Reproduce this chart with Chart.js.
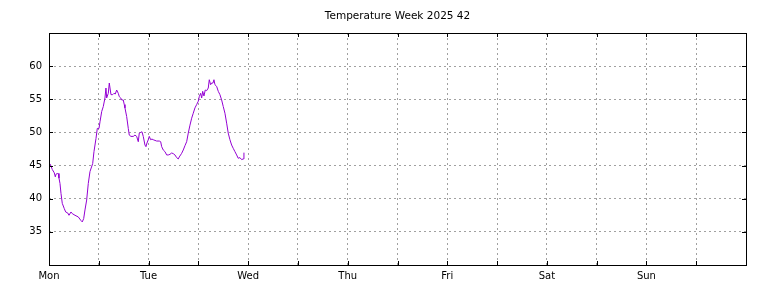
<!DOCTYPE html>
<html>
<head>
<meta charset="utf-8">
<script src="https://cdn.jsdelivr.net/npm/chart.js@4"></script>
<style>
html,body{margin:0;padding:0;background:#fff;}
#wrap{width:768px;height:288px;}
</style>
</head>
<body>
<div id="wrap"><canvas id="c" width="768" height="288"></canvas></div>
<script>
// ---- data ----
const title = "Temperature Week 2025 42";
const dayLabels = ["Mon", "Tue", "Wed", "Thu", "Fri", "Sat", "Sun"];
// hours since Monday 00:00
const hours = [0,0.31,0.8,1.28,1.52,1.69,2.0,2.24,2.41,2.65,2.89,3.2,3.69,4.02,4.51,4.82,5.3,5.61,6.27,7.06,7.71,8.02,8.36,8.67,9.08,9.47,9.88,10.53,10.84,11.33,11.64,12.05,12.29,12.7,13.08,13.49,13.73,13.9,14.29,14.53,14.94,15.35,15.66,15.98,16.31,16.7,16.94,17.28,17.52,17.9,18.14,18.31,18.72,19.11,19.35,19.76,20.31,20.72,21.13,21.52,21.76,22.1,22.41,22.72,23.13,23.37,23.61,23.93,24.17,24.51,24.82,25.13,25.95,26.58,26.92,27.16,27.54,27.95,28.36,28.75,29.16,29.57,29.95,30.36,30.77,31.16,31.4,31.98,32.36,32.77,33.18,33.57,33.98,34.39,34.77,35.18,35.59,35.98,36.22,36.55,36.8,37.04,37.35,37.66,38.0,38.39,38.63,38.96,39.2,39.52,39.76,40.0,40.41,40.8,41.2,41.61,42.0,42.41,42.82,43.2,43.61,44.02,44.41,44.82,45.23,45.61,46.02,46.43,46.82,46.99];
const temps = [45.3,45.2,44.4,43.9,43.3,43.7,43.8,43.8,43.1,42.3,40.8,39.3,38.5,38.0,37.85,37.5,38.0,37.75,37.5,37.25,36.7,36.5,37.0,38.3,39.8,42.3,44.1,45.3,47.1,49.1,50.6,50.6,51.6,53.15,53.9,55.2,56.7,55.2,55.9,57.45,55.7,55.7,55.9,55.8,56.4,55.9,55.4,55.2,54.9,54.9,54.2,53.7,52.4,50.6,49.6,49.4,49.4,49.6,49.4,48.6,49.9,50.0,50.1,49.4,48.1,47.85,48.4,48.9,49.4,48.9,49.0,48.9,48.7,48.7,48.6,47.85,47.35,47.1,46.6,46.6,46.7,46.9,46.8,46.6,46.2,46.0,46.3,46.85,47.35,48.0,48.6,49.9,51.1,52.15,52.9,53.7,54.2,54.7,55.4,55.9,55.2,56.2,55.5,56.4,56.3,56.7,57.95,57.2,57.45,57.45,57.95,57.2,56.95,56.2,55.7,54.9,53.9,52.9,51.4,49.9,48.9,48.1,47.6,47.1,46.6,46.1,46.2,45.9,46.0,46.95];
const yTicks = [35, 40, 45, 50, 55, 60];

const points = hours.map((h, i) => ({x: h, y: temps[i]}));
const FONT = {family: "DejaVu Sans", size: 10};

const frame = {
  id: 'frame',
  afterDraw(chart) {
    const {ctx, chartArea: a, scales} = chart;
    ctx.save();
    // title centred over the plot area
    ctx.fillStyle = '#000';
    ctx.font = '10.5px "DejaVu Sans"';
    ctx.textAlign = 'center';
    ctx.textBaseline = 'middle';
    ctx.fillText(title, (a.left + a.right) / 2, 16.5);

    ctx.strokeStyle = '#000';
    ctx.lineWidth = 1;
    ctx.beginPath();
    const tl = 4;
    scales.x.ticks.forEach(t => {
      const px = Math.round(scales.x.getPixelForValue(t.value)) + 0.5;
      ctx.moveTo(px, a.bottom); ctx.lineTo(px, a.bottom - tl);
      ctx.moveTo(px, a.top); ctx.lineTo(px, a.top + tl);
    });
    scales.y.ticks.forEach(t => {
      const py = Math.round(scales.y.getPixelForValue(t.value)) + 0.5;
      ctx.moveTo(a.left, py); ctx.lineTo(a.left + tl, py);
      ctx.moveTo(a.right, py); ctx.lineTo(a.right - tl, py);
    });
    ctx.stroke();
    ctx.strokeRect(Math.round(a.left) + 0.5, Math.round(a.top) + 0.5,
                   Math.round(a.right) - Math.round(a.left), Math.round(a.bottom) - Math.round(a.top));
    ctx.restore();
  }
};

new Chart(document.getElementById('c'), {
  type: 'line',
  data: {
    datasets: [{
      data: points,
      borderColor: '#9400d3',
      borderWidth: 1,
      pointRadius: 0,
      tension: 0,
      fill: false
    }]
  },
  options: {
    responsive: false,
    animation: false,
    layout: {padding: {left: 0, right: 22, top: 33, bottom: 0}},
    plugins: {
      legend: {display: false},
      tooltip: {enabled: false},
      title: {display: false}
    },
    scales: {
      x: {
        type: 'linear',
        min: 0, max: 168,
        afterFit(s) { s.height = 23; },
        ticks: {
          stepSize: 12,
          autoSkip: false,
          maxRotation: 0,
          color: '#000',
          font: FONT,
          padding: 5,
          callback: (v) => (v % 24 === 0 && v / 24 < dayLabels.length) ? dayLabels[v / 24] : ''
        },
        grid: {
          drawTicks: false,
          color: (c) => (c.tick && (c.tick.value === 0 || c.tick.value === 168)) ? 'rgba(0,0,0,0)' : '#a0a0a0',
          lineWidth: 1
        },
        border: {display: false, dash: [2, 3]}
      },
      y: {
        type: 'linear',
        min: 30, max: 65,
        afterFit(s) { s.width = 49; },
        afterBuildTicks(s) { s.ticks = [30].concat(yTicks, [65]).map(v => ({value: v})); },
        ticks: {
          color: '#000',
          font: FONT,
          padding: 7,
          callback: (v) => yTicks.includes(v) ? String(v) : ''
        },
        grid: {
          drawTicks: false,
          color: (c) => (c.tick && (c.tick.value === 30 || c.tick.value === 65)) ? 'rgba(0,0,0,0)' : '#a0a0a0',
          lineWidth: 1
        },
        border: {display: false, dash: [2, 3]}
      }
    }
  },
  plugins: [frame]
});
</script>
</body>
</html>
